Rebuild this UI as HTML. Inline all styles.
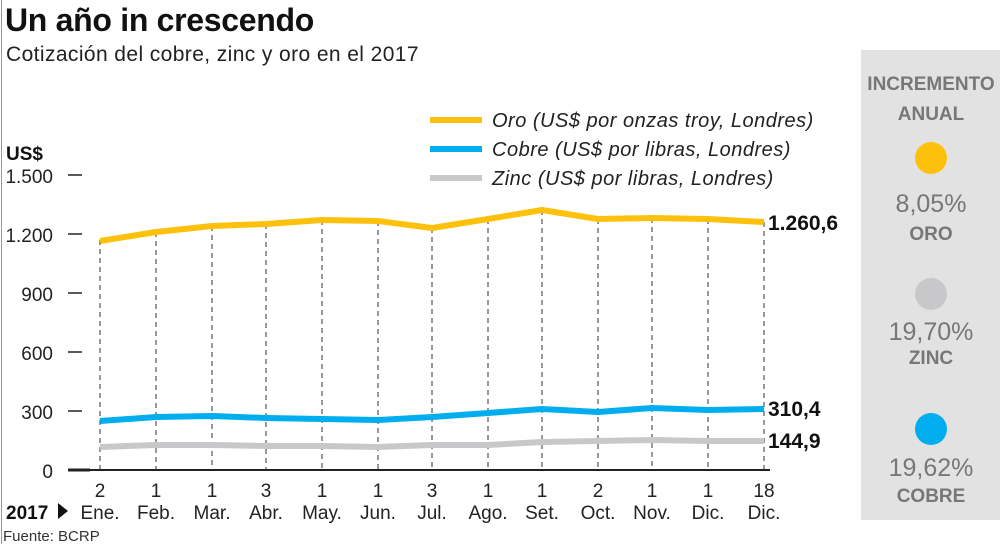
<!DOCTYPE html>
<html><head><meta charset="utf-8"><style>
body{margin:0;width:1000px;height:544px;background:#fff;overflow:hidden;font-family:"Liberation Sans",sans-serif;}
</style></head><body>
<svg width="1000" height="544" xmlns="http://www.w3.org/2000/svg" font-family="Liberation Sans, sans-serif">
<line x1="1.5" y1="0" x2="1.5" y2="544" stroke="#999" stroke-width="1"/>
<text x="5" y="31" font-size="32" font-weight="bold" fill="#111" letter-spacing="-0.3">Un año in crescendo</text>
<text x="6" y="61" font-size="21" fill="#222" letter-spacing="0.4">Cotización del cobre, zinc y oro en el 2017</text>
<rect x="861" y="50" width="139" height="470" fill="#e2e2e2"/>
<g text-anchor="middle" fill="#777">
<text x="931" y="90" font-size="19" font-weight="bold">INCREMENTO</text>
<text x="931" y="120" font-size="19" font-weight="bold">ANUAL</text>
<circle cx="931" cy="158" r="16" fill="#fdc10c"/>
<text x="931" y="212" font-size="25">8,05%</text>
<text x="931" y="240" font-size="19" font-weight="bold">ORO</text>
<circle cx="931" cy="294" r="16" fill="#c8c8ca"/>
<text x="931" y="340" font-size="25">19,70%</text>
<text x="931" y="364" font-size="19" font-weight="bold">ZINC</text>
<circle cx="931" cy="429" r="16" fill="#00aeef"/>
<text x="931" y="476" font-size="25">19,62%</text>
<text x="931" y="502" font-size="19" font-weight="bold">COBRE</text>
</g>
<text x="6" y="160" font-size="19" font-weight="bold" fill="#111">US$</text>
<g font-size="19" fill="#222" text-anchor="end">
<text x="53" y="183">1.500</text><text x="53" y="242">1.200</text><text x="53" y="301">900</text>
<text x="53" y="360">600</text><text x="53" y="419">300</text><text x="53" y="478">0</text>
</g>
<g stroke="#222" stroke-width="1.5">
<line x1="68" y1="175" x2="82" y2="175"/><line x1="68" y1="234" x2="82" y2="234"/><line x1="68" y1="293" x2="82" y2="293"/>
<line x1="68" y1="352" x2="82" y2="352"/><line x1="68" y1="411" x2="82" y2="411"/>
</g>
<g stroke="#333" stroke-width="1" stroke-dasharray="5,4">
<line x1="100" y1="240" x2="100" y2="470"/><line x1="156" y1="232" x2="156" y2="470"/><line x1="212" y1="226" x2="212" y2="470"/>
<line x1="266" y1="224" x2="266" y2="470"/><line x1="322" y1="220" x2="322" y2="470"/><line x1="378" y1="221" x2="378" y2="470"/>
<line x1="432" y1="228" x2="432" y2="470"/><line x1="488" y1="219" x2="488" y2="470"/><line x1="542" y1="210" x2="542" y2="470"/>
<line x1="598" y1="219" x2="598" y2="470"/><line x1="652" y1="218" x2="652" y2="470"/><line x1="708" y1="219" x2="708" y2="470"/>
<line x1="764" y1="222" x2="764" y2="470"/>
</g>
<line x1="68" y1="470" x2="770" y2="470" stroke="#222" stroke-width="2"/>
<line x1="68" y1="470" x2="90" y2="470" stroke="#222" stroke-width="3"/>
<g fill="none" stroke-width="6" stroke-linejoin="round" stroke-linecap="butt">
<polyline stroke="#fdc10c" points="100,241 156,232 212,226 266,224 322,220 378,221 432,228 488,219 542,210 598,219 652,218 708,219 764,222"/>
<polyline stroke="#00aeef" points="100,421 156,417 212,416 266,418 322,419 378,420 432,417 488,413 542,409 598,412 652,408 708,410 764,409"/>
<polyline stroke="#c8c8ca" points="100,447 156,445 212,445 266,446 322,446 378,447 432,445 488,445 542,442 598,441 652,440 708,441 764,441"/>
</g>
<g font-size="21" font-weight="bold" fill="#111">
<text x="768" y="230">1.260,6</text><text x="768" y="416">310,4</text><text x="768" y="448">144,9</text>
</g>
<g stroke-width="6"><line x1="430" y1="120" x2="482" y2="120" stroke="#fdc10c"/><line x1="430" y1="149" x2="482" y2="149" stroke="#00aeef"/><line x1="430" y1="178" x2="482" y2="178" stroke="#c8c8ca"/></g>
<g font-size="20" font-style="italic" fill="#222" letter-spacing="0.5">
<text x="492" y="127">Oro (US$ por onzas troy, Londres)</text>
<text x="492" y="156">Cobre (US$ por libras, Londres)</text>
<text x="492" y="185">Zinc (US$ por libras, Londres)</text>
</g>
<g font-size="19" fill="#222" text-anchor="middle">
<text x="100" y="497">2</text><text x="156" y="497">1</text><text x="212" y="497">1</text><text x="266" y="497">3</text>
<text x="322" y="497">1</text><text x="378" y="497">1</text><text x="432" y="497">3</text><text x="488" y="497">1</text>
<text x="542" y="497">1</text><text x="598" y="497">2</text><text x="652" y="497">1</text><text x="708" y="497">1</text><text x="764" y="497">18</text>
<text x="100" y="519">Ene.</text><text x="156" y="519">Feb.</text><text x="212" y="519">Mar.</text><text x="266" y="519">Abr.</text>
<text x="322" y="519">May.</text><text x="378" y="519">Jun.</text><text x="432" y="519">Jul.</text><text x="488" y="519">Ago.</text>
<text x="542" y="519">Set.</text><text x="598" y="519">Oct.</text><text x="652" y="519">Nov.</text><text x="708" y="519">Dic.</text><text x="764" y="519">Dic.</text>
</g>
<text x="6" y="519" font-size="19" font-weight="bold" fill="#111">2017</text>
<polygon points="58,503 68,511 58,519" fill="#111"/>
<text x="3" y="541" font-size="15" fill="#333">Fuente: BCRP</text>
</svg>
</body></html>
